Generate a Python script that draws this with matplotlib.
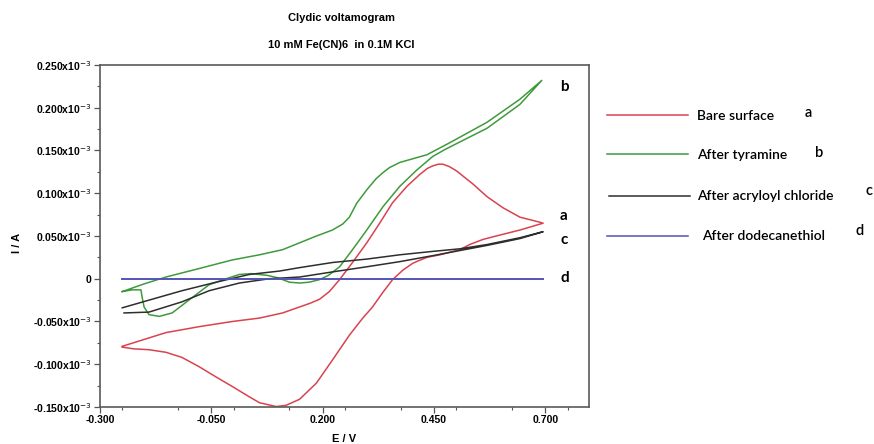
import matplotlib
matplotlib.use("Agg")
import matplotlib.pyplot as plt
from matplotlib.lines import Line2D
from matplotlib.ticker import MultipleLocator

# ---------------- data (current in units of 1e-3 A) ----------------
red_E = [-0.250, -0.201, -0.152, -0.077, -0.003, 0.058, 0.110, 0.148, 0.170, 0.193, 0.215, 0.238,
         0.267, 0.299, 0.328, 0.357, 0.389, 0.418, 0.435, 0.447, 0.460, 0.470, 0.485, 0.501, 0.520, 0.537,
         0.569, 0.605, 0.643, 0.681, 0.695,
         0.643, 0.582, 0.560, 0.530, 0.508, 0.463, 0.434, 0.415, 0.402, 0.380, 0.357,
         0.335, 0.312, 0.290, 0.260, 0.222, 0.186, 0.148, 0.118, 0.096, 0.075, 0.058,
         0.035, -0.003, -0.039, -0.077, -0.116, -0.152, -0.190, -0.224, -0.250]
red_I = [-0.079, -0.071, -0.063, -0.056, -0.050, -0.046, -0.040, -0.033, -0.029, -0.024, -0.015, -0.001,
         0.019, 0.042, 0.065, 0.089, 0.108, 0.122, 0.129, 0.132, 0.134, 0.134, 0.131, 0.126, 0.118, 0.111,
         0.096, 0.083, 0.072, 0.067, 0.065,
         0.057, 0.049, 0.046, 0.040, 0.034, 0.028, 0.025, 0.021, 0.018, 0.010, -0.001,
         -0.016, -0.033, -0.046, -0.066, -0.095, -0.122, -0.141, -0.148, -0.1495, -0.147, -0.145,
         -0.138, -0.126, -0.115, -0.103, -0.092, -0.086, -0.083, -0.082, -0.080]

green_E = [-0.250, -0.201, -0.152, -0.077, -0.003, 0.058, 0.110, 0.148, 0.186, 0.222,
           0.245, 0.260, 0.276, 0.299, 0.320, 0.335, 0.350, 0.373, 0.400, 0.434, 0.485, 0.569, 0.643, 0.692,
           0.643, 0.569, 0.508, 0.474, 0.447, 0.411, 0.373, 0.335, 0.299, 0.267,
           0.238, 0.213, 0.193, 0.170, 0.148, 0.125, 0.100, 0.075, 0.040, 0.013, -0.017, -0.055, -0.093,
           -0.138, -0.167, -0.190, -0.201, -0.206, -0.208, -0.228, -0.250]
green_I = [-0.015, -0.006, 0.002, 0.012, 0.022, 0.028, 0.034, 0.042, 0.050, 0.057,
           0.064, 0.072, 0.088, 0.104, 0.117, 0.124, 0.130, 0.136, 0.140, 0.145, 0.159, 0.183, 0.210, 0.232,
           0.204, 0.176, 0.160, 0.151, 0.143, 0.127, 0.108, 0.084, 0.057, 0.034,
           0.014, 0.004, -0.001, -0.004, -0.005, -0.004, 0.001, 0.004, 0.006, 0.005, 0.000, -0.007, -0.022,
           -0.040, -0.044, -0.042, -0.033, -0.020, -0.013, -0.013, -0.015]

black_E = [-0.250, -0.190, -0.116, -0.039, 0.035, 0.103, 0.148, 0.222, 0.299, 0.373,
           0.447, 0.508, 0.569, 0.643, 0.695,
           0.643, 0.569, 0.508, 0.447, 0.373, 0.299, 0.222, 0.148, 0.080, 0.013,
           -0.055, -0.116, -0.190, -0.246]
black_I = [-0.034, -0.025, -0.014, -0.004, 0.005, 0.009, 0.013, 0.019, 0.023, 0.028,
           0.032, 0.035, 0.040, 0.048, 0.055,
           0.047, 0.039, 0.033, 0.027, 0.020, 0.014, 0.008, 0.002, 0.000, -0.005,
           -0.014, -0.027, -0.039, -0.040]

blue_E = [-0.250, 0.695]
blue_I = [0.0, 0.0]

y_ticks = [-0.150, -0.100, -0.050, 0.0, 0.050, 0.100, 0.150, 0.200, 0.250]
y_labels = ["-0.150x10$^{-3}$", "-0.100x10$^{-3}$", "-0.050x10$^{-3}$", "0",
            "0.050x10$^{-3}$", "0.100x10$^{-3}$", "0.150x10$^{-3}$",
            "0.200x10$^{-3}$", "0.250x10$^{-3}$"]
x_ticks = [-0.300, -0.050, 0.200, 0.450, 0.700]
x_labels = ["-0.300", "-0.050", "0.200", "0.450", "0.700"]

series_names = ["Bare surface", "After tyramine", "After acryloyl chloride", "After dodecanethiol"]
series_letters = ["a", "b", "c", "d"]
colors = ["#d8434f", "#3f9a3c", "#2e2e2e", "#5454b4"]

# ---------------- figure ----------------
W, H = 874, 444
fig = plt.figure(figsize=(W / 100, H / 100), dpi=100)
ax = fig.add_axes([100 / W, 1 - 407 / H, 489 / W, 342 / H])

ax.plot(red_E, red_I, color=colors[0], lw=1.1)
ax.plot(green_E, green_I, color=colors[1], lw=1.1)
ax.plot(black_E, black_I, color=colors[2], lw=1.1)
ax.plot(blue_E, blue_I, color=colors[3], lw=1.4)

ax.set_xlim(-0.3, 0.798)
ax.set_ylim(-0.15, 0.25)

tick_font = dict(family="Liberation Sans", weight="bold", size=7.5)
ax.set_yticks(y_ticks)
ax.set_yticklabels(y_labels, **tick_font)
ax.set_xticks(x_ticks)
ax.set_xticklabels(x_labels, **tick_font)
ax.xaxis.set_minor_locator(MultipleLocator(0.125))
ax.yaxis.set_minor_locator(MultipleLocator(0.025))
ax.tick_params(which="major", length=4, width=0.9, color="#555555", pad=2)
ax.tick_params(which="minor", length=2.5, width=0.8, color="#555555")
for s in ax.spines.values():
    s.set_color("#5a5a5a")
    s.set_linewidth(1.2)

ax.set_xlabel("E / V", family="Liberation Sans", weight="bold", size=8)
ax.xaxis.set_label_coords(0.5, -0.078)
ax.set_ylabel("I / A", family="Liberation Sans", weight="bold", size=8)
ax.yaxis.set_label_coords(-0.16, 0.48)

fig.text(341 / W, 1 - 18 / H, "Clydic voltamogram", ha="center", va="center",
         family="Liberation Sans", weight="bold", size=8)
fig.text(341 / W, 1 - 45 / H, "10 mM Fe(CN)6  in 0.1M KCl", ha="center", va="center",
         family="Liberation Sans", weight="bold", size=8)

# curve letters at the right end
letter_y = [0.0736, 0.224, 0.0456, 0.0012]
for lt, yy in zip(series_letters, letter_y):
    ax.text(0.733, yy, lt, ha="left", va="center", family="Lato", weight="bold", size=11)

# manual legend
leg_y = [115, 154, 196, 236]
text_base = [120, 159, 200, 240]
letter_base = [117, 157, 195, 235]
leg_x0 = [607, 607, 609, 607]
text_x = [697, 697, 697, 702]
letter_x = [805, 815, 866, 856]
for i in range(4):
    y = 1 - leg_y[i] / H
    fig.add_artist(Line2D([leg_x0[i] / W, (leg_x0[i] + 81) / W], [y, y],
                          color=colors[i], lw=1.1, transform=fig.transFigure))
    fig.text(text_x[i] / W, 1 - text_base[i] / H, series_names[i], ha="left", va="baseline",
             family="Lato", weight="semibold", size=10)
    fig.text(letter_x[i] / W, 1 - letter_base[i] / H, series_letters[i], ha="left", va="baseline",
             family="Lato", weight="semibold", size=10.5)

fig.savefig("out.png", dpi=100)
